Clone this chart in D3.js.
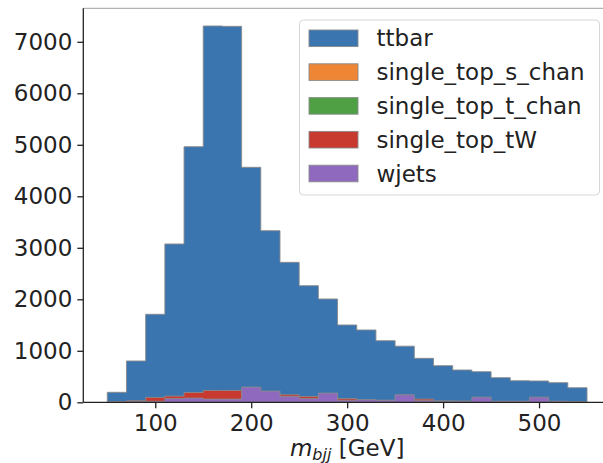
<!DOCTYPE html>
<html>
<head>
<meta charset="utf-8">
<script src="https://cdn.jsdelivr.net/npm/d3@7"></script>
<style>
  body { margin: 0; background: #fff; }
  svg { display: block; font-family: "DejaVu Sans", sans-serif; }
</style>
</head>
<body>
<div id="chart"></div>
<script>
// bin edges, 20 GeV wide
const binEdges = d3.range(50, 551, 20);

const ttbar = [194, 802, 1709, 3074, 4963, 7307, 7300, 4563, 3332, 2718, 2264, 2006, 1501,
  1404, 1196, 1090, 854, 711, 627, 594, 478, 419, 414, 381, 283];
const singleTopS = [2, 5, 10, 12, 15, 18, 16, 14, 12, 10, 8, 7, 6, 5, 4, 4, 3, 3, 2, 2, 2, 1, 1, 1, 1];
const singleTopT = [5, 15, 30, 40, 50, 55, 50, 45, 35, 30, 25, 20, 15, 12, 10, 8, 7, 6, 5, 4, 4, 3, 3, 2, 2];
const singleTopTW = [10, 30, 95, 120, 190, 230, 230, 185, 145, 146, 113, 82, 72, 41, 31, 21, 62, 26, 21, 15, 10, 10, 5, 5, 5];
const wjets = [0, 10, 20, 72, 82, 62, 62, 295, 218, 113, 72, 179, 41, 51, 41, 146, 31, 21, 21, 100, 21, 21, 100, 21, 0];

const seriesNames = ["ttbar", "single_top_s_chan", "single_top_t_chan", "single_top_tW", "wjets"];
const seriesValues = [ttbar, singleTopS, singleTopT, singleTopTW, wjets];
const colors = ["#3a75b0", "#ee8636", "#4fa044", "#c8392f", "#8e69bd"];

const xTicks = [100, 200, 300, 400, 500];
const yTicks = [0, 1000, 2000, 3000, 4000, 5000, 6000, 7000];

const width = 603, height = 463;
const margin = { left: 83.3, top: 8.3, right: 611, bottom: 402.3 };

const svg = d3.select("#chart").append("svg")
  .attr("width", width).attr("height", height);

const maxVal = d3.max(seriesValues, s => d3.max(s));
const xScale = d3.scaleLinear()
  .domain([25, 575])
  .range([margin.left, margin.right]);
const yScale = d3.scaleLinear()
  .domain([0, maxVal * 1.047])
  .range([margin.bottom, margin.top]);

// step filled histograms, drawn one over the other
const area = d3.area()
  .curve(d3.curveStepAfter)
  .x(d => xScale(d.x))
  .y0(yScale(0))
  .y1(d => yScale(d.y));

seriesValues.forEach((vals, k) => {
  const pts = binEdges.map((e, i) => ({ x: e, y: vals[Math.min(i, vals.length - 1)] }));
  svg.append("path")
    .attr("d", area(pts))
    .attr("fill", colors[k])
    .attr("stroke", "#8a8a8a")
    .attr("stroke-width", 0.9);
});

// top spine (light)
svg.append("line")
  .attr("x1", margin.left).attr("x2", margin.right)
  .attr("y1", margin.top).attr("y2", margin.top)
  .attr("stroke", "#a0a0a0").attr("stroke-width", 1);

const xAxis = d3.axisBottom(xScale).tickValues(xTicks).tickSize(6).tickPadding(6);
const yAxis = d3.axisLeft(yScale).tickValues(yTicks).tickFormat(d3.format("d"))
  .tickSize(6).tickPadding(5);

const xg = svg.append("g")
  .attr("transform", `translate(0,${margin.bottom})`)
  .call(xAxis);
const yg = svg.append("g")
  .attr("transform", `translate(${margin.left},0)`)
  .call(yAxis);

[xg, yg].forEach(g => {
  g.select(".domain").attr("stroke", "#222").attr("stroke-width", 1.3);
  g.selectAll(".tick line").attr("stroke", "#222").attr("stroke-width", 1.3);
  g.selectAll(".tick text")
    .attr("fill", "#222")
    .style("font-size", "23px")
    .style("font-family", "DejaVu Sans, sans-serif");
});
xg.select(".domain").attr("d", `M${margin.left},0H${margin.right}`);
yg.select(".domain").attr("d", `M0,${margin.top}V${margin.bottom}`);

// x axis label
const xl = svg.append("text")
  .attr("x", (margin.left + margin.right) / 2)
  .attr("y", 456)
  .attr("text-anchor", "middle")
  .attr("fill", "#222")
  .style("font-size", "23px");
xl.append("tspan").style("font-style", "italic").text("m");
xl.append("tspan").style("font-style", "italic").style("font-size", "16px").attr("dy", 4).text("bjj");
xl.append("tspan").attr("dy", -4).text(" [GeV]");

// legend
const lg = svg.append("g").attr("transform", "translate(299.5,20)");
lg.append("rect")
  .attr("width", 300).attr("height", 175)
  .attr("rx", 4)
  .attr("fill", "#fff").attr("fill-opacity", 0.85)
  .attr("stroke", "#d6d6d6").attr("stroke-width", 1);

seriesNames.forEach((name, i) => {
  const cy = 18.3 + i * 33.8;
  lg.append("rect")
    .attr("x", 9.5).attr("y", cy - 8.3)
    .attr("width", 49).attr("height", 16.6)
    .attr("fill", colors[i])
    .attr("stroke", "#8a8a8a").attr("stroke-width", 0.9);
  lg.append("text")
    .attr("x", 77)
    .attr("y", cy + 8)
    .attr("fill", "#222")
    .style("font-size", "23px")
    .text(name);
});
</script>
</body>
</html>
